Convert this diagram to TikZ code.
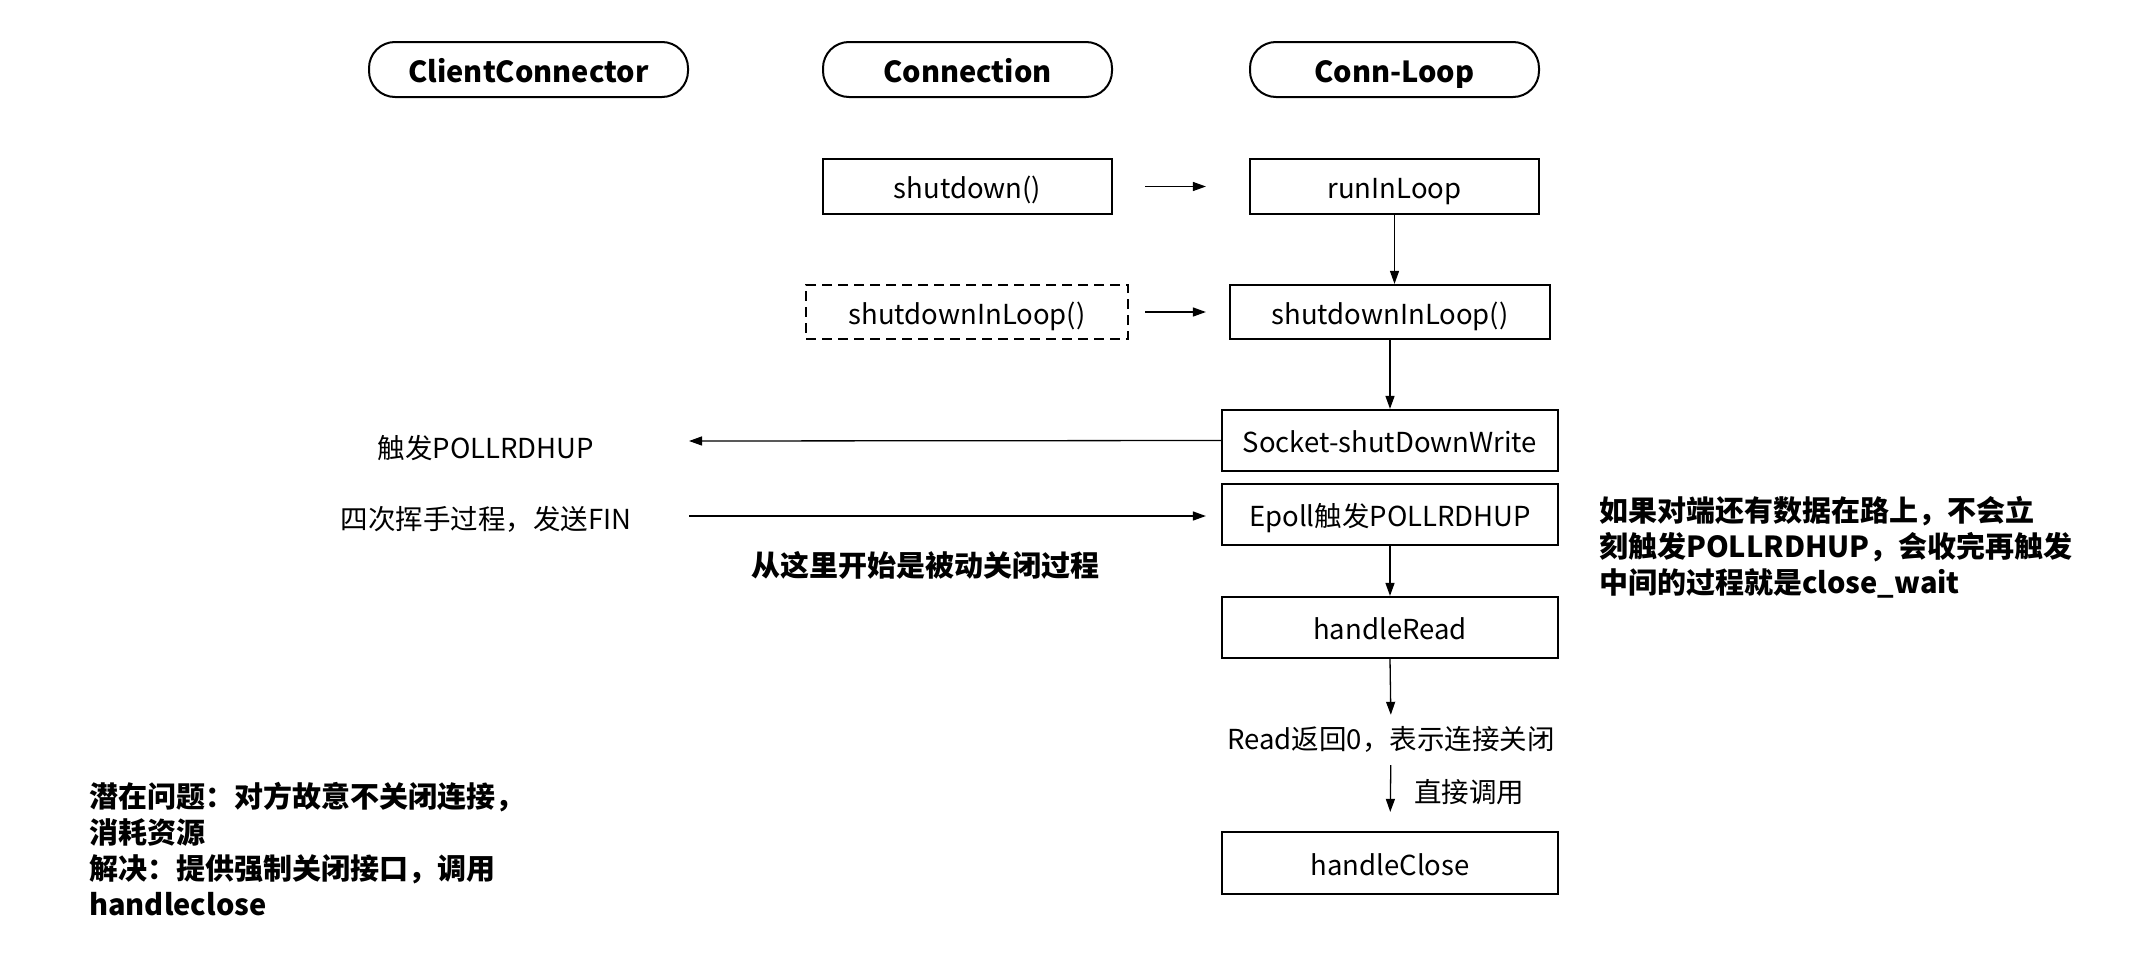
\documentclass[tikz,border=0pt]{standalone}
\usepackage{fontspec}
\setmainfont{Noto Sans CJK SC}
\usetikzlibrary{arrows.meta}
\begin{document}
\begin{tikzpicture}[x=1pt,y=-1pt,
  pill/.style={draw, line width=2pt, rounded corners=26pt, minimum height=55pt, inner sep=0pt, text height=26pt, text depth=0pt, font=\fontsize{29}{35}\selectfont\bfseries},
  box/.style={draw, line width=2.2pt, minimum height=56pt, inner sep=0pt, text height=24pt, text depth=0pt, font=\fontsize{27.5}{33}\selectfont},
  txt/.style={inner sep=0pt, text height=22pt, text depth=0pt, font=\fontsize{27.5}{33}\selectfont},
  btxt/.style={inner sep=0pt, align=left, font=\fontsize{29}{36}\selectfont\bfseries},
  arr/.style={line width=1.3pt, -{Triangle[length=13pt,width=9pt]}}
]
\useasboundingbox (0,0) rectangle (2136,977);
% headers
\node[pill, minimum width=319pt] (cc) at (528.5,69.5) {ClientConnector};
\node[pill, minimum width=289pt] (conn) at (967.5,69.5) {Connection};
\node[pill, minimum width=289pt] (cl) at (1394.5,69.5) {Conn-Loop};
% boxes
\node[box, minimum width=289pt, minimum height=55pt] (sd) at (967.5,186.5) {shutdown()};
\node[box, minimum width=289pt, minimum height=55pt] (ril) at (1394.5,186.5) {runInLoop};
\node[box, dash pattern=on 10pt off 6pt, line width=2pt, minimum width=322pt, minimum height=54pt] (sdld) at (967,312) {shutdownInLoop()};
\node[box, minimum width=320pt, minimum height=54pt] (sdl) at (1390,312) {shutdownInLoop()};
\node[box, minimum width=336pt, minimum height=61pt] (sock) at (1390,440.5) {Socket-shutDownWrite};
\node[box, minimum width=336pt, minimum height=61pt] (ep) at (1390,514.5) {Epoll触发POLLRDHUP};
\node[box, minimum width=336pt, minimum height=61pt] (hr) at (1390,627.5) {handleRead};
\node[txt] (rt) at (1391,738) {Read返回0，表示连接关闭};
\node[box, minimum width=336pt, minimum height=62pt] (hc) at (1390,863) {handleClose};
% free texts
\node[txt] (trig) at (486,447) {触发POLLRDHUP};
\node[txt] (fin) at (486,518) {四次挥手过程，发送FIN};
\node[btxt] (passive) at (925,565) {从这里开始是被动关闭过程};
\node[btxt, anchor=west] (noteR) at (1599,547) {如果对端还有数据在路上，不会立\\刻触发POLLRDHUP，会收完再触发\\中间的过程就是close\_wait};
\node[btxt, anchor=west] (noteL) at (89,849) {潜在问题：对方故意不关闭连接，\\消耗资源\\解决：提供强制关闭接口，调用\\handleclose};
\coordinate (trigEnd) at (689,441);
\coordinate (finStart) at (689,516);
% connectors
\draw[arr, shorten <=32pt, shorten >=43pt] (sd.east) -- (ril.west);
\draw[arr, shorten <=16pt, shorten >=23pt] (sdld.east) -- (sdl.west);
\draw[arr] (ril.south) -- (ril.south |- sdl.north);
\draw[arr] (sdl.south) -- (sdl.south |- sock.north);
\draw[arr] (sock.west) -- (trigEnd);
\draw[arr] (finStart) -- ([xshift=-15pt]ep.west |- finStart);
\draw[arr] (ep.south) -- (hr.north);
\draw[arr, shorten >=12pt] (hr.south) -- (rt.north);
\draw[arr, shorten <=16pt, shorten >=19pt] (rt.south) -- (hc.north);
\node[txt, anchor=west] (direct) at (1414,791) {直接调用};
\end{tikzpicture}
\end{document}
